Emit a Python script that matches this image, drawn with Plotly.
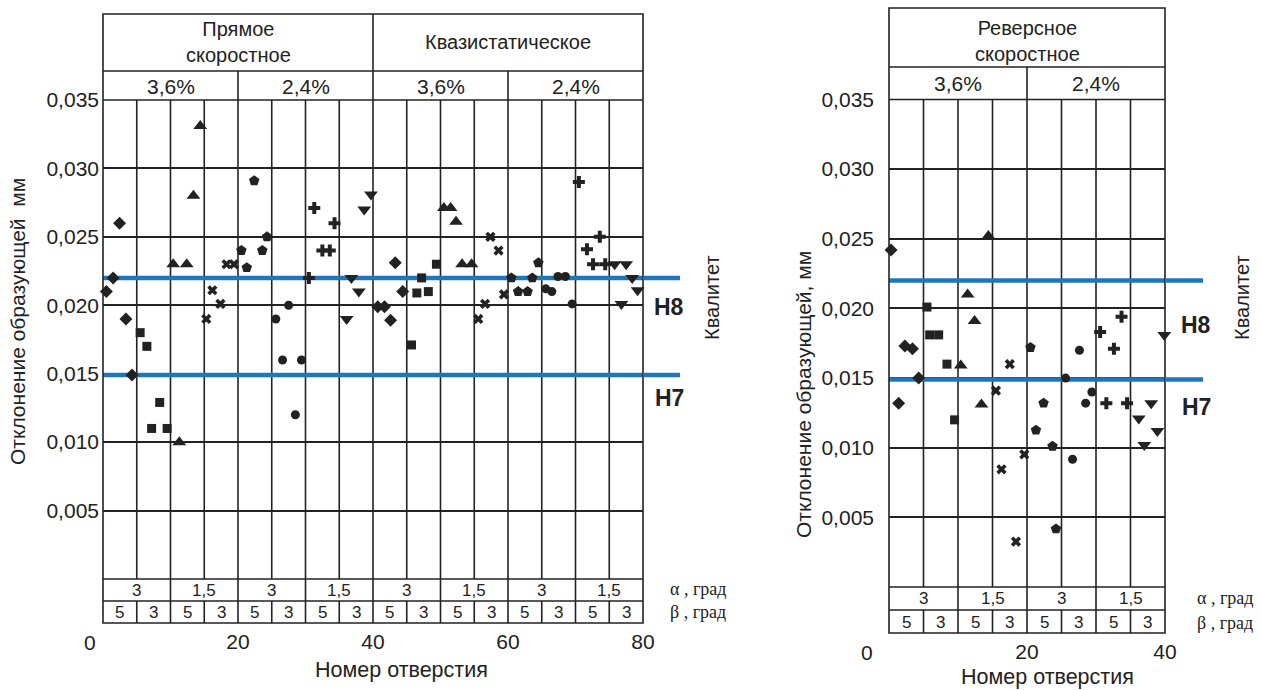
import plotly.graph_objects as go

# ------------------------------------------------------------------ data
# Left chart (holes 1..80): one marker type per (alpha, beta) combination
L_diamond_x = [0.5, 1.5, 2.45, 3.4, 4.3, 40.7, 41.7, 42.6, 43.3, 44.4]
L_diamond_y = [0.0210, 0.0220, 0.0260, 0.0190, 0.0149, 0.0199, 0.0199, 0.0189, 0.0231, 0.0210]
L_square_x = [5.5, 6.5, 7.2, 8.4, 9.5, 45.7, 46.5, 47.2, 48.2, 49.4]
L_square_y = [0.0180, 0.0170, 0.0110, 0.0129, 0.0110, 0.0171, 0.0209, 0.0220, 0.0210, 0.0230]
L_triup_x = [10.4, 11.3, 12.4, 13.4, 14.4, 50.5, 51.5, 52.3, 53.2, 54.6]
L_triup_y = [0.0230, 0.0100, 0.0230, 0.0280, 0.0331, 0.0271, 0.0271, 0.0261, 0.0230, 0.0230]
L_xmark_x = [15.3, 16.2, 17.4, 18.3, 19.4, 55.6, 56.6, 57.4, 58.6, 59.4]
L_xmark_y = [0.0190, 0.0211, 0.0201, 0.0230, 0.0230, 0.0190, 0.0201, 0.0250, 0.0240, 0.0208]
L_penta_x = [20.5, 21.3, 22.4, 23.6, 24.3, 60.5, 61.5, 62.9, 63.6, 64.5]
L_penta_y = [0.0240, 0.02275, 0.0291, 0.0240, 0.0250, 0.0220, 0.0210, 0.0210, 0.0220, 0.0231]
L_circle_x = [25.6, 26.6, 27.5, 28.5, 29.4, 65.6, 66.5, 67.4, 68.5, 69.5]
L_circle_y = [0.0190, 0.0160, 0.0200, 0.0120, 0.0160, 0.0212, 0.0210, 0.0221, 0.0221, 0.0201]
L_plus_x = [30.5, 31.3, 32.5, 33.6, 34.3, 70.5, 71.7, 72.6, 73.6, 74.4]
L_plus_y = [0.0220, 0.0271, 0.0240, 0.0240, 0.0260, 0.0290, 0.0241, 0.0230, 0.0250, 0.0230]
L_tridown_x = [36.1, 36.8, 37.9, 38.7, 39.7, 75.8, 76.8, 77.5, 78.4, 79.2]
L_tridown_y = [0.0190, 0.0220, 0.0210, 0.0270, 0.0281, 0.0230, 0.0201, 0.0230, 0.0220, 0.0211]

# Right chart (holes 1..40)
R_diamond_x = [0.3, 1.4, 2.3, 3.4, 4.3]
R_diamond_y = [0.0242, 0.0132, 0.0173, 0.0171, 0.0150]
R_square_x = [5.5, 5.9, 7.2, 8.4, 9.5]
R_square_y = [0.0201, 0.0181, 0.0181, 0.0160, 0.0120]
R_triup_x = [10.4, 11.4, 12.4, 13.4, 14.4]
R_triup_y = [0.0159, 0.0210, 0.0191, 0.0131, 0.0252]
R_xmark_x = [15.5, 16.3, 17.5, 18.4, 19.6]
R_xmark_y = [0.0141, 0.00845, 0.0160, 0.00326, 0.00952]
R_penta_x = [20.5, 21.3, 22.4, 23.7, 24.2]
R_penta_y = [0.0172, 0.01126, 0.0132, 0.0101, 0.00417]
R_circle_x = [25.6, 26.6, 27.6, 28.5, 29.4]
R_circle_y = [0.0150, 0.00917, 0.0170, 0.0132, 0.0140]
R_plus_x = [30.6, 31.5, 32.6, 33.7, 34.5]
R_plus_y = [0.0183, 0.0132, 0.0171, 0.0194, 0.0132]
R_tridown_x = [36.2, 37.0, 38.0, 38.9, 39.9]
R_tridown_y = [0.0121, 0.0102, 0.0132, 0.0112, 0.0181]

# Tolerance grade limits (Квалитет)
grade_levels = [0.022, 0.0149]
grade_names = ["H8", "H7"]

# Table / header labels
L_modes = ["Прямое<br>скоростное", "Квазистатическое"]
L_pct = ["3,6%", "2,4%", "3,6%", "2,4%"]
L_alpha = ["3", "1,5", "3", "1,5", "3", "1,5", "3", "1,5"]
L_beta = ["5", "3"] * 8
R_modes = ["Реверсное<br>скоростное"]
R_pct = ["3,6%", "2,4%"]
R_alpha = ["3", "1,5", "3", "1,5"]
R_beta = ["5", "3"] * 4

y_ticks = [0.005, 0.010, 0.015, 0.020, 0.025, 0.030, 0.035]
L_x_ticks = [20, 40, 60, 80]
R_x_ticks = [20, 40]

# ------------------------------------------------------------------ style
W, H = 1261, 690
INK = "#222222"
BLUE = "#1c77bd"
FONT = "Liberation Sans, Arial, sans-serif"
SERIF = "Liberation Serif, Times New Roman, serif"
LW = 1.6


def PX(p):
    return p / W


def PY(p):
    return 1 - p / H


symbols = [
    ("diamond", 10), ("square", 9), ("triangle-up", 12), ("x", 9),
    ("pentagon", 11), ("circle", 9), ("cross", 10), ("triangle-down", 12),
]

L_series = [(L_diamond_x, L_diamond_y), (L_square_x, L_square_y), (L_triup_x, L_triup_y),
            (L_xmark_x, L_xmark_y), (L_penta_x, L_penta_y), (L_circle_x, L_circle_y),
            (L_plus_x, L_plus_y), (L_tridown_x, L_tridown_y)]
R_series = [(R_diamond_x, R_diamond_y), (R_square_x, R_square_y), (R_triup_x, R_triup_y),
            (R_xmark_x, R_xmark_y), (R_penta_x, R_penta_y), (R_circle_x, R_circle_y),
            (R_plus_x, R_plus_y), (R_tridown_x, R_tridown_y)]

panels = [
    dict(xa="x", ya="y", xmax=80, xdom=(103, 643), ytop=100, ybot=579,
         hdr_top=14, hdr_mid=71, tab_mid=601, tab_bot=623,
         series=L_series, modes=L_modes, pct=L_pct, alpha=L_alpha, beta=L_beta,
         xticks=L_x_ticks, standoff=48, ystandoff=3,
         mode_y=42, pct_y=86, alpha_y=590, beta_y=612,
         ab_x=668, ab_y=(589, 612), grade_x=669, grade_y=(307, 398),
         blue_end=680, kval=(712, 298), ytitle=(17, 322, "Отклонение образующей  мм"),
         xtitle=(401, 670), zero=(90, 642)),
    dict(xa="x2", ya="y2", xmax=40, xdom=(889, 1165), ytop=99.5, ybot=587,
         hdr_top=8, hdr_mid=67, tab_mid=610, tab_bot=633,
         series=R_series, modes=R_modes, pct=R_pct, alpha=R_alpha, beta=R_beta,
         xticks=R_x_ticks, standoff=50, ystandoff=14,
         mode_y=41, pct_y=83, alpha_y=598, beta_y=622,
         ab_x=1195, ab_y=(598, 623), grade_x=1196, grade_y=(325, 407),
         blue_end=1203, kval=(1242, 298), ytitle=(803, 395, "Отклонение образующей, мм"),
         xtitle=(1047, 677), zero=(867, 652)),
]

fig = go.Figure()
shapes = []
annotations = []
layout_axes = {}

for p in panels:
    xa, ya, xmax = p["xa"], p["ya"], p["xmax"]
    xd = f"{xa} domain"

    # grade limit lines (inside the plot: traces, so markers sit on top)
    for lvl in grade_levels:
        fig.add_trace(go.Scatter(
            x=[0, xmax], y=[lvl, lvl], mode="lines", xaxis=xa, yaxis=ya,
            showlegend=False, hoverinfo="skip", line=dict(color=BLUE, width=4.5),
        ))

    # markers
    for (sx, sy), (sym, sz) in zip(p["series"], symbols):
        fig.add_trace(go.Scatter(
            x=sx, y=sy, mode="markers", xaxis=xa, yaxis=ya, cliponaxis=False,
            showlegend=False, marker=dict(symbol=sym, size=sz, color=INK, line=dict(width=0)),
        ))

    # axes
    xkey = "xaxis" if xa == "x" else "xaxis" + xa[1:]
    ykey = "yaxis" if ya == "y" else "yaxis" + ya[1:]
    layout_axes[xkey] = dict(
        domain=[PX(p["xdom"][0]), PX(p["xdom"][1])], range=[0, xmax], anchor=ya,
        showgrid=False, zeroline=False, showline=False, ticks="", automargin=False,
        tickvals=p["xticks"], ticklabelstandoff=p["standoff"],
        tickfont=dict(family=FONT, size=21, color=INK),
    )
    layout_axes[ykey] = dict(
        domain=[PY(p["ybot"]), PY(p["ytop"])], range=[0, 0.035], anchor=xa,
        showgrid=True, gridcolor=INK, gridwidth=LW, zeroline=False, showline=False,
        automargin=False,
        ticks="", tickvals=y_ticks, tickformat=".3f", ticklabelstandoff=p["ystandoff"],
        tickfont=dict(family=FONT, size=21, color=INK),
    )

    ln = dict(color=INK, width=LW)
    top, bot = PY(p["hdr_top"]), PY(p["tab_bot"])
    y0p, y35p = PY(p["ybot"]), PY(p["ytop"])
    # outer box
    shapes.append(dict(type="rect", xref=xd, yref="paper", x0=0, x1=1, y0=bot, y1=top, line=ln))
    # horizontal separators
    for yy in (PY(p["hdr_mid"]), y35p, y0p, PY(p["tab_mid"])):
        shapes.append(dict(type="line", xref=xd, yref="paper", x0=0, x1=1, y0=yy, y1=yy, line=ln))
    # vertical grid inside plot + beta row (every 5)
    for k in range(1, int(xmax / 5)):
        xv = 5 * k
        shapes.append(dict(type="line", xref=xa, yref="paper", x0=xv, x1=xv,
                           y0=y0p, y1=y35p, line=ln, layer="below"))
        shapes.append(dict(type="line", xref=xa, yref="paper", x0=xv, x1=xv,
                           y0=bot, y1=PY(p["tab_mid"]), line=ln))
    # alpha row separators
    span_a = xmax / len(p["alpha"])
    for k in range(1, len(p["alpha"])):
        xv = span_a * k
        shapes.append(dict(type="line", xref=xa, yref="paper", x0=xv, x1=xv,
                           y0=PY(p["tab_mid"]), y1=y0p, line=ln))
    # header separators
    span_p = xmax / len(p["pct"])
    for k in range(1, len(p["pct"])):
        xv = span_p * k
        shapes.append(dict(type="line", xref=xa, yref="paper", x0=xv, x1=xv,
                           y0=y35p, y1=PY(p["hdr_mid"]), line=ln))
    span_m = xmax / len(p["modes"])
    for k in range(1, len(p["modes"])):
        xv = span_m * k
        shapes.append(dict(type="line", xref=xa, yref="paper", x0=xv, x1=xv,
                           y0=PY(p["hdr_mid"]), y1=top, line=ln))
    # overhang of the grade lines beyond the plot's right edge
    ext = (p["blue_end"] - p["xdom"][0]) / (p["xdom"][1] - p["xdom"][0])
    for lvl in grade_levels:
        shapes.append(dict(type="line", xref=xd, yref=ya, x0=1, x1=ext, y0=lvl, y1=lvl,
                           line=dict(color=BLUE, width=4.5)))

    def txt(x, y, s, size=21, xref=xa, font=FONT, xanchor="center", **kw):
        d = dict(x=x, y=y, xref=xref, yref="paper", text=s, showarrow=False,
                 xanchor=xanchor, yanchor="middle",
                 font=dict(family=font, size=size, color=INK))
        d.update(kw)
        annotations.append(d)

    for i, s in enumerate(p["modes"]):
        txt((i + 0.5) * span_m, PY(p["mode_y"]), s, size=20)
    for i, s in enumerate(p["pct"]):
        txt((i + 0.5) * span_p, PY(p["pct_y"]), s, size=21)
    for i, s in enumerate(p["alpha"]):
        txt((i + 0.5) * span_a, PY(p["alpha_y"]), s, size=17)
    span_b = xmax / len(p["beta"])
    for i, s in enumerate(p["beta"]):
        txt((i + 0.5) * span_b, PY(p["beta_y"]), s, size=17)
    txt(PX(p["ab_x"]), PY(p["ab_y"][0]), "α , град", size=18, xref="paper", font=SERIF, xanchor="left")
    txt(PX(p["ab_x"]), PY(p["ab_y"][1]), "β , град", size=18, xref="paper", font=SERIF, xanchor="left")
    for name, gy in zip(grade_names, p["grade_y"]):
        txt(PX(p["grade_x"]), PY(gy), f"<b>{name}</b>", size=23, xref="paper")
    txt(PX(p["kval"][0]), PY(p["kval"][1]), "Квалитет", size=20, xref="paper", textangle=-90)
    txt(PX(p["ytitle"][0]), PY(p["ytitle"][1]), p["ytitle"][2], size=21, xref="paper", textangle=-90)
    txt(PX(p["xtitle"][0]), PY(p["xtitle"][1]), "Номер отверстия", size=21.5, xref="paper")
    txt(PX(p["zero"][0]), PY(p["zero"][1]), "0", size=21, xref="paper")

fig.update_layout(
    width=W, height=H, margin=dict(l=0, r=0, t=0, b=0, pad=0, autoexpand=False),
    paper_bgcolor="white", plot_bgcolor="white",
    separators=", ", showlegend=False,
    font=dict(family=FONT, color=INK),
    shapes=shapes, annotations=annotations,
    **layout_axes,
)

fig.write_html("out.html")
